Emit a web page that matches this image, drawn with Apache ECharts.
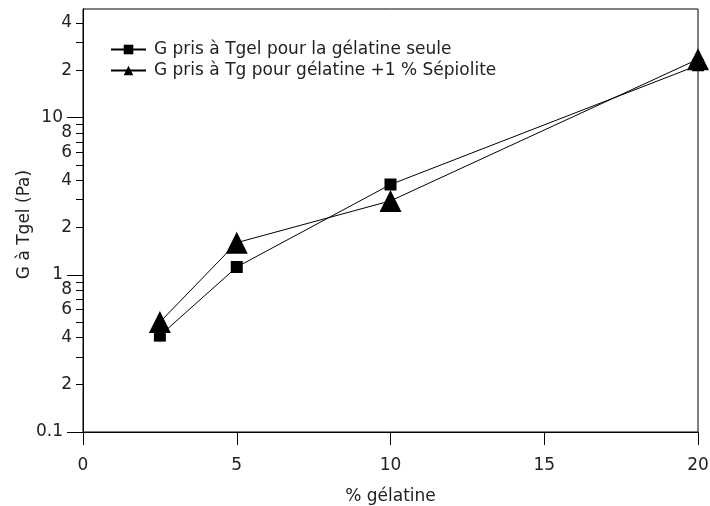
<!DOCTYPE html>
<html>
<head>
<meta charset="utf-8">
<script src="https://cdn.jsdelivr.net/npm/echarts@6/dist/echarts.min.js"></script>
<style>html,body{margin:0;padding:0;background:#fff;}#c{width:710px;height:506px;}</style>
</head>
<body>
<div id="c"></div>
<script>
// ---- data ----
var xValues = [2.5, 5, 10, 20];
var gelatineSeule = [0.41, 1.12, 3.75, 21.5];
var gelatineSepiolite = [0.5, 1.6, 2.95, 23.5];
var seriesNames = ['G pris à Tgel pour la gélatine seule', 'G pris à Tg pour gélatine +1 % Sépiolite'];
var xTicks = [0, 5, 10, 15, 20];
var yMajorTicks = [0.1, 1, 10];
var yMinorTicks = [0.2, 0.3, 0.4, 0.5, 0.6, 0.7, 0.8, 0.9, 2, 3, 4, 5, 6, 7, 8, 9, 20, 30, 40];
var yMinorLabels = [0.2, 0.4, 0.6, 0.8, 2, 4, 6, 8, 20, 40];
var xName = '% gélatine';
var yName = 'G à Tgel (Pa)';

var FONT = 'DejaVu Sans';
var TXT = '#222';
function pairs(xs, ys) { return xs.map(function (x, i) { return [x, ys[i]]; }); }
function leadDigit(v) { return String(+(+v).toPrecision(6)).replace(/^0\./, '').replace(/0+$/, ''); }

var chart = echarts.init(document.getElementById('c'), null, { renderer: 'canvas' });
var yBase = {
  type: 'log', logBase: 10, min: 0.1, max: 49, position: 'left', offset: 0,
  splitLine: { show: false }, minorTick: { show: false }, minorSplitLine: { show: false },
  axisLine: { show: true, lineStyle: { color: '#000', width: 1 } }
};
chart.setOption({
  animation: false,
  backgroundColor: '#fff',
  textStyle: { fontFamily: FONT },
  grid: { left: 83, right: 12, top: 9, bottom: 74, containLabel: false, outerBoundsMode: 'none',
    show: true, borderColor: '#000', borderWidth: 1, backgroundColor: 'transparent' },
  legend: {
    orient: 'vertical', left: 105, top: 36, itemGap: 4, itemWidth: 35, itemHeight: 12,
    textStyle: { fontFamily: FONT, fontSize: 17, color: TXT, padding: [0, 0, 0, 3] },
    data: seriesNames
  },
  xAxis: {
    type: 'value', min: 0, max: 20, interval: 5,
    name: xName, nameLocation: 'middle', nameGap: 56, nameMoveOverlap: false,
    nameTextStyle: { fontFamily: FONT, fontSize: 17, color: TXT },
    axisLine: { show: true, lineStyle: { color: '#000', width: 1 } },
    axisTick: { show: true, length: 13, inside: false, lineStyle: { color: '#000' }, customValues: xTicks },
    axisLabel: { fontFamily: FONT, fontSize: 17, color: TXT, margin: 25, customValues: xTicks },
    splitLine: { show: false }
  },
  yAxis: [
    Object.assign({}, yBase, {
      name: yName, nameLocation: 'middle', nameGap: 50, nameMoveOverlap: false,
      nameTextStyle: { fontFamily: FONT, fontSize: 17, color: TXT, padding: [0, 8, 0, 0] },
      axisTick: { show: true, length: 16, lineStyle: { color: '#000' }, customValues: yMajorTicks },
      axisLabel: { fontFamily: FONT, fontSize: 17, color: TXT, margin: 20, customValues: yMajorTicks,
        formatter: function (v) { return String(+(+v).toPrecision(6)); } }
    }),
    Object.assign({}, yBase, {
      axisTick: { show: true, length: 7, lineStyle: { color: '#000' }, customValues: yMinorTicks },
      axisLabel: { fontFamily: FONT, fontSize: 17, color: TXT, margin: 11, customValues: yMinorLabels,
        formatter: leadDigit }
    })
  ],
  series: [
    {
      name: seriesNames[0], type: 'line', yAxisIndex: 0, data: pairs(xValues, gelatineSeule),
      symbol: 'rect', symbolSize: 12, showAllSymbol: true,
      lineStyle: { color: '#000', width: 1 }, itemStyle: { color: '#000' }, z: 2
    },
    {
      name: seriesNames[1], type: 'line', yAxisIndex: 0, data: pairs(xValues, gelatineSepiolite),
      symbol: 'triangle', symbolSize: 22, showAllSymbol: true,
      lineStyle: { color: '#000', width: 1 }, itemStyle: { color: '#000' }, z: 3
    }
  ]
});
</script>
</body>
</html>
